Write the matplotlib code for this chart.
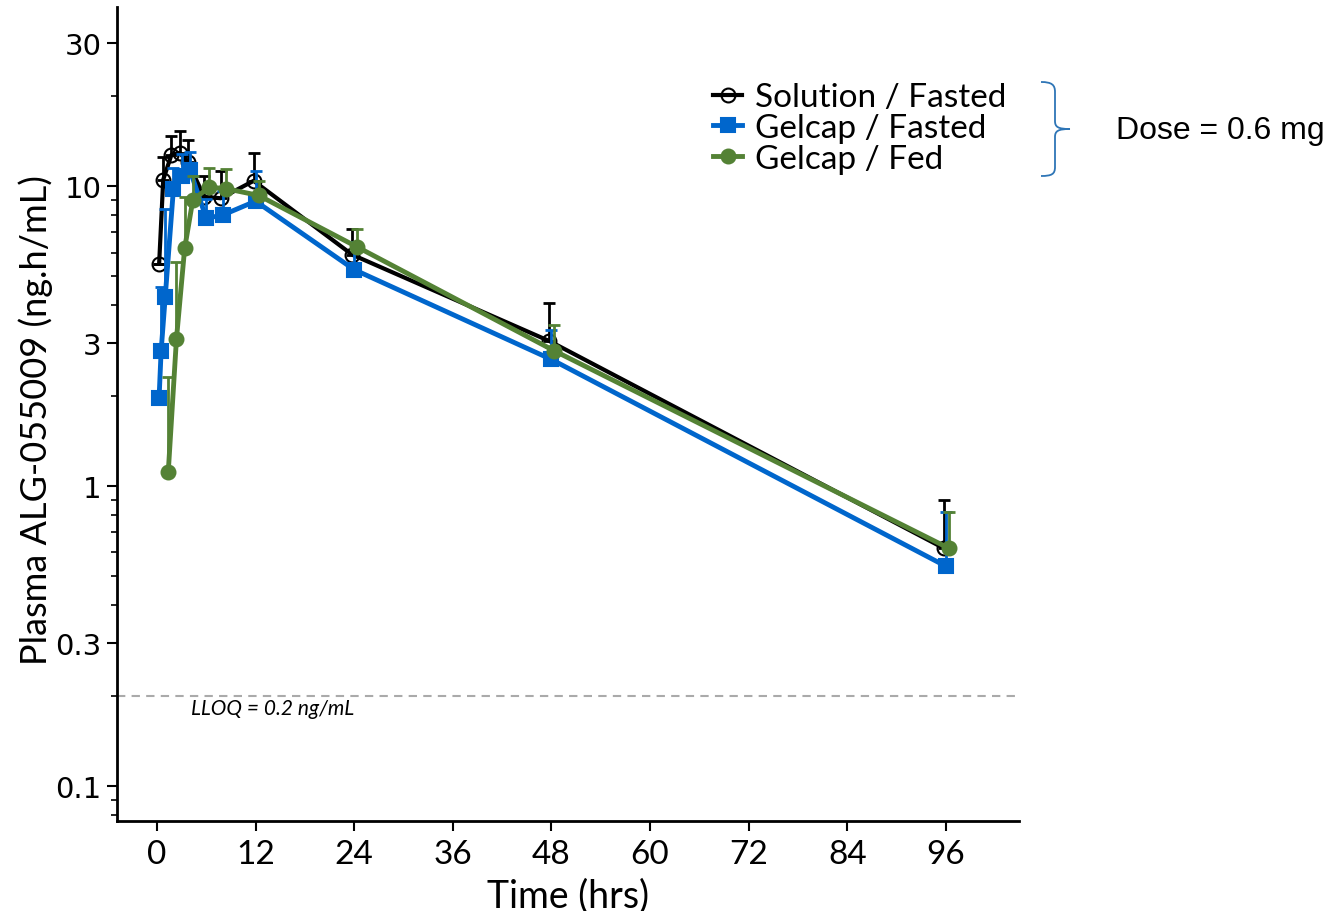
import numpy as np
import matplotlib
matplotlib.use("Agg")
import matplotlib.pyplot as plt
import matplotlib.transforms as mtransforms
from matplotlib.path import Path
from matplotlib.patches import PathPatch
from matplotlib.ticker import FixedLocator, FixedFormatter, LogLocator, NullFormatter

# ---------------- data ----------------
sol_t = [0.5, 1, 2, 3, 4, 6, 8, 12, 24, 48, 96]
sol_c = [5.5, 10.5, 12.7, 12.9, 12.0, 9.2, 9.1, 10.4, 5.9, 3.04, 0.62]
sol_up = [5.5, 12.5, 14.7, 15.2, 14.2, 10.8, 11.2, 12.9, 7.2, 4.06, 0.90]

gf_t = [0.25, 0.5, 1, 2, 3, 4, 6, 8, 12, 24, 48, 96]
gf_c = [1.96, 2.82, 4.27, 9.8, 10.8, 11.3, 7.8, 8.0, 8.9, 5.26, 2.64, 0.54]
gf_up = [1.96, 4.6, 8.4, 11.5, 12.8, 13.0, 9.05, 9.6, 11.2, 6.5, 3.3, 0.82]

gfed_t = [1, 2, 3, 4, 6, 8, 12, 24, 48, 96]
gfed_c = [1.11, 3.09, 6.2, 9.0, 9.9, 9.8, 9.3, 6.26, 2.82, 0.62]
gfed_up = [2.3, 5.6, 9.2, 10.8, 11.5, 11.4, 10.4, 7.2, 3.44, 0.82]

labels = ["Solution / Fasted", "Gelcap / Fasted", "Gelcap / Fed"]
xticks = [0, 12, 24, 36, 48, 60, 72, 84, 96]
yticks = [0.1, 0.3, 1, 3, 10, 30]
ytick_labels = ["0.1", "0.3", "1", "3", "10", "30"]
lloq = 0.2

# ---------------- figure ----------------
W, H = 1330, 912
fig = plt.figure(figsize=(W / 100, H / 100), dpi=100)
ax = fig.add_axes([117 / W, 1 - 822 / H, (1019 - 117) / W, (822 - 8) / H])

cond = ['Lato', 'DejaVu Sans']

series = [
    (sol_t, sol_c, sol_up, "black", "o", "none", 10, -2.0, 3.0),
    (gf_t, gf_c, gf_up, "#0066CC", "s", "#0066CC", 10.5, 0.0, 3.5),
    (gfed_t, gfed_c, gfed_up, "#548235", "o", "#548235", 10, 3.0, 3.5),
]

handles = []
for (t, c, up, col, mk, mfc, ms, dx, lw), lab in zip(series, labels):
    tr = mtransforms.offset_copy(ax.transData, fig=fig, x=dx, y=0, units='dots')
    c_arr = np.array(c)
    err = np.array(up) - c_arr
    eb = ax.errorbar(t, c, yerr=[np.zeros_like(err), err], fmt='none',
                     ecolor=col, elinewidth=2, capsize=4, capthick=2)
    for art in eb.lines[1]:
        art.set_transform(tr)
    for art in eb.lines[2]:
        art.set_transform(tr)
    ln, = ax.plot(t, c, color=col, lw=lw, marker=mk, markersize=ms,
                  markerfacecolor=mfc, markeredgecolor=col, markeredgewidth=1.5,
                  transform=tr, label=lab)
    handles.append(ln)

ax.set_yscale('log')
ax.set_xlim(-4.87, 104.9)
ax.set_ylim(0.0764, 39.5)

ax.yaxis.set_major_locator(FixedLocator(yticks))
ax.yaxis.set_major_formatter(FixedFormatter(ytick_labels))
ax.yaxis.set_minor_locator(LogLocator(base=10, subs=[2, 4, 5, 6, 7, 8, 9]))
ax.yaxis.set_minor_formatter(NullFormatter())
ax.set_xticks(xticks)
ax.set_xticklabels([str(v) for v in xticks])

for s in ['top', 'right']:
    ax.spines[s].set_visible(False)
for s in ['left', 'bottom']:
    ax.spines[s].set_linewidth(2)
    ax.spines[s].set_color('black')

ax.tick_params(axis='y', which='major', length=7, width=1.5, labelsize=21, pad=4,
               labelfontfamily='DejaVu Sans')
ax.tick_params(axis='y', which='minor', length=4, width=1.2)
ax.tick_params(axis='x', which='major', length=7, width=1.5, pad=6,
               labelsize=24, labelfontfamily='Lato')

ax.set_xlabel("Time (hrs)", fontsize=27, family=cond, labelpad=6)
ax.set_ylabel("Plasma ALG-055009 (ng.h/mL)", fontsize=26, family=cond)
ax.yaxis.set_label_coords((53 - 117) / 902, 0.494)

ax.axhline(lloq, color='#aaaaaa', lw=1.5, ls=(0, (4, 3)), zorder=0)
ax.text(4.1, lloq, "LLOQ = 0.2 ng/mL", fontsize=15, style='italic',
        ha='left', va='top', family=cond,
        transform=mtransforms.offset_copy(ax.transData, fig=fig, x=0, y=-2, units='dots'))

leg = fig.legend(handles=handles, labels=labels, loc='upper left',
                 bbox_to_anchor=(700 / W, 1 - 70 / H), frameon=False,
                 prop={'family': cond, 'size': 24}, handlelength=0.85,
                 handletextpad=0.4, labelspacing=0.02, borderaxespad=0)

# curly brace
def px(x, y):
    return (x / W, 1 - y / H)

verts = [px(1041, 83), px(1052, 83), px(1055, 86), px(1055, 93),
         px(1055, 122),
         px(1055, 128), px(1058, 130), px(1070, 130),
         px(1058, 130), px(1055, 132), px(1055, 138),
         px(1055, 168),
         px(1055, 175), px(1052, 177), px(1041, 177)]
codes = [Path.MOVETO, Path.CURVE4, Path.CURVE4, Path.CURVE4,
         Path.LINETO,
         Path.CURVE4, Path.CURVE4, Path.CURVE4,
         Path.CURVE4, Path.CURVE4, Path.CURVE4,
         Path.LINETO,
         Path.CURVE4, Path.CURVE4, Path.CURVE4]
fig.patches.append(PathPatch(Path(verts, codes), transform=fig.transFigure,
                             fill=False, edgecolor='#2E75B6', lw=1.3))

fig.text(1116 / W, 1 - 131 / H, "Dose = 0.6 mg", fontsize=23,
         family='Liberation Sans', ha='left', va='center')

fig.savefig("out.png", dpi=100)
